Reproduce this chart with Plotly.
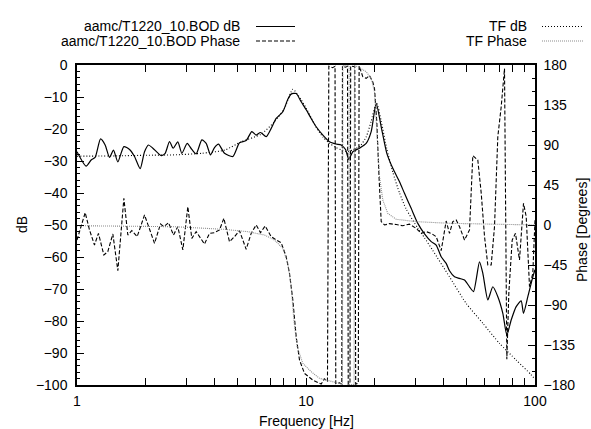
import plotly.graph_objects as go

# ---------------- data ----------------
bod_db_freq = [1.00, 1.096, 1.153, 1.200, 1.267, 1.327, 1.387, 1.443, 1.508, 1.602,
               1.696, 1.783, 1.887, 1.972, 2.052, 2.144, 2.331, 2.427, 2.535, 2.630,
               2.756, 2.870, 3.027, 3.172, 3.314, 3.509, 3.665, 3.828, 3.985, 4.149,
               4.406, 4.791, 5.124, 5.479, 5.801, 6.059, 6.328, 6.701, 7.046, 7.409,
               7.922, 8.331, 8.615, 9.060, 9.526, 10.02, 10.53, 11.08, 11.85, 12.67,
               13.54, 14.24, 14.88, 15.38, 16.01, 17.13, 18.31, 19.26, 20.25, 21.30,
               22.54, 23.94, 25.61, 26.92, 28.79, 30.78, 32.93, 35.21, 37.02, 38.93,
               40.94, 42.33, 44.51, 46.81, 49.22, 51.76, 53.88, 57.23, 59.19, 62.23,
               65.45, 68.82, 72.36, 75.34, 78.70, 82.76, 87.01, 89.08, 93.05, 97.84, 100.0]
bod_db = [-27.1, -31.6, -29.7, -28.9, -23.1, -25.0, -28.9, -26.6, -30.3, -25.5,
          -26.4, -28.6, -32.4, -27.1, -25.0, -26.0, -28.3, -27.6, -23.9, -26.0,
          -24.0, -27.6, -24.5, -26.4, -27.8, -23.4, -24.5, -28.1, -25.8, -24.7,
          -27.6, -28.6, -24.3, -23.6, -20.8, -21.9, -21.1, -22.4, -19.8, -16.7,
          -14.6, -10.7, -9.1, -8.9, -11.5, -14.0, -16.7, -19.3, -21.9, -24.0,
          -24.7, -25.0, -26.4, -29.5, -27.1, -26.0, -24.5, -20.8, -12.0, -19.3,
          -27.6, -32.3, -36.5, -40.1, -44.8, -49.5, -52.8, -55.2, -56.3, -59.9,
          -62.0, -64.3, -66.2, -66.7, -67.2, -69.3, -70.8, -61.5, -65.1, -73.4,
          -69.3, -72.4, -77.6, -84.4, -79.7, -75.5, -73.7, -77.6, -72.4, -66.2, -64.0]

bod_ph_freq = [1.000, 1.086, 1.134, 1.192, 1.241, 1.310, 1.363, 1.434, 1.508, 1.602,
               1.667, 1.735, 1.831, 1.972, 2.180, 2.315, 2.394, 2.509, 2.638, 2.756,
               2.899, 3.048, 3.172, 3.314, 3.604, 3.790, 3.985, 4.191, 4.377, 4.634,
               4.873, 5.124, 5.479, 5.762, 6.059, 6.328, 6.633, 7.046, 7.409, 7.791,
               8.192, 8.471, 8.760, 9.060, 9.367, 9.849, 10.71, 11.23, 11.65, 12.04,
               12.41, 12.58, 13.06, 13.39, 13.49, 14.01, 14.33, 14.43, 14.88, 15.18,
               15.29, 15.56, 15.67, 16.33, 16.48, 16.92, 17.06, 17.70, 18.31, 18.94,
               19.57, 19.91, 20.38, 20.79, 21.30, 22.02, 23.15, 24.77, 26.47, 28.31,
               30.28, 31.85, 33.49, 35.21, 37.02, 38.93, 40.94, 42.33, 43.76, 45.28,
               46.81, 49.22, 51.76, 53.51, 56.27, 58.24, 60.20, 62.22, 64.38, 66.55,
               68.81, 71.19, 73.59, 75.33, 76.85, 79.51, 82.19, 85.56, 89.08, 91.54,
               94.63, 97.82, 100.0]
bod_ph = [-16.9, 13.9, -5.6, -22.5, -9.4, -33.8, -30.0, -10.1, -51.4, 30.0,
          -11.3, -6.4, -13.1, 11.3, -20.6, 1.1, -1.9, 2.6, -11.3, -1.9,
          -28.1, 20.6, -15.0, -7.5, -21.4, -9.4, -8.6, -5.6, 7.5, -18.8,
          -13.1, -6.4, -27.4, -9.4, 0.0, -8.6, -1.1, -13.1, -16.9, -19.9,
          -35.6, -54.4, -84.4, -125.6, -151.9, -166.9, -174.4, -176.5, -179.0, -173.0,
          -176.0, 178.5, 177.0, 178.5, -178.5, -177.5, -179.0, 179.0, 177.5, 178.5,
          -179.0, -178.0, 179.0, 178.0, -179.0, -178.0, 179.0, 166.9, 165.0, 168.0,
          161.0, 153.8, 116.0, 60.0, 3.8, 0.0, 1.5, 0.5, -0.8, 1.0,
          -3.8, -9.4, -7.5, -9.4, -13.1, -28.9, 4.5, -9.4, 3.8, 5.6,
          -1.9, -16.9, -5.6, 78.0, 73.1, 35.6, -13.1, -45.0, -45.0, -1.9,
          99.4, 133.0, 176.0, -151.0, -76.9, -16.9, -9.4, -39.4, 24.4, 9.4,
          -69.4, -54.4, 5.6]

tf_db_freq = [1.0, 1.5, 2.0, 2.63, 3.5, 4.41, 5.21, 6.37, 7.29, 8.06,
              8.76, 9.53, 10.02, 10.53, 11.08, 11.85, 12.67, 13.54, 14.24, 14.88,
              15.38, 16.01, 17.13, 18.31, 19.26, 20.0, 20.4, 21.3, 22.5, 23.94,
              25.61, 27.38, 30.78, 32.93, 35.81, 42.33, 50.05, 59.19, 69.98, 82.76,
              96.23, 100.0]
tf_db = [-28.5, -28.4, -28.2, -28.1, -27.6, -26.6, -24.0, -21.6, -17.7, -13.5,
         -7.6, -10.9, -13.5, -16.5, -19.5, -22.5, -24.5, -25.8, -26.5, -27.0,
         -27.0, -26.5, -25.5, -22.5, -17.5, -13.0, -12.0, -17.5, -26.0, -33.5,
         -40.0, -45.0, -51.0, -54.0, -58.0, -66.2, -74.5, -80.7, -87.0, -92.2,
         -96.8, -98.2]

tf_ph_freq = [1.0, 2.66, 4.41, 5.57, 6.59, 7.29, 7.92, 8.33, 8.62, 8.85,
              9.15, 9.68, 10.53, 11.46, 13.09, 14.43, 14.49, 15.43, 15.49, 16.22,
              16.28, 17.13, 18.31, 19.26, 19.91, 20.38, 20.94, 21.65, 22.76, 24.77,
              30.28, 42.33, 97.8, 100.0]
tf_ph = [-0.8, -1.9, -4.9, -7.5, -11.3, -16.9, -26.3, -43.1, -69.4, -106.9,
         -136.9, -155.6, -165.0, -172.5, -176.3, -179.3, 179.5, 179.0, -179.5, -179.5,
         179.5, 177.0, 172.5, 165.0, 150.0, 110.6, 54.4, 28.1, 13.1, 6.4,
         3.8, 1.9, 0.0, 0.0]

x_tick_vals = [1, 10, 100]
x_tick_text = ["1", "10", "100"]

legend_names = ["aamc/T1220_10.BOD dB", "aamc/T1220_10.BOD Phase", "TF dB", "TF Phase"]

# ---------------- figure ----------------
W, H = 591, 429
L, R, T, B = 77, 56, 65, 44
PW, PH = W - L - R, H - T - B

def px(x):
    return (x - L) / PW

def py(y):
    return (H - B - y) / PH

FONT = "Liberation Sans, Arial, Helvetica, sans-serif"
GRAY = "#8c8c8c"

fig = go.Figure()
fig.add_trace(go.Scatter(x=bod_db_freq, y=bod_db, mode="lines", name=legend_names[0],
                         line=dict(color="black", width=1.2, shape="spline", smoothing=0.6)))
fig.add_trace(go.Scatter(x=bod_ph_freq, y=bod_ph, mode="lines", name=legend_names[1], yaxis="y2",
                         line=dict(color="black", width=1.1, dash="4px,2px")))
fig.add_trace(go.Scatter(x=tf_db_freq, y=tf_db, mode="lines", name=legend_names[2],
                         line=dict(color="black", width=1.1, dash="1px,2px", shape="spline", smoothing=0.6)))
fig.add_trace(go.Scatter(x=tf_ph_freq, y=tf_ph, mode="lines", name=legend_names[3], yaxis="y2",
                         line=dict(color=GRAY, width=1.1, dash="1px,1px")))

axis_common = dict(showline=True, linecolor="black", linewidth=1.5, ticks="inside",
                   tickcolor="black", tickwidth=1, showgrid=False, zeroline=False,
                   tickfont=dict(family=FONT, size=14, color="black"))

fig.update_layout(
    width=W, height=H,
    margin=dict(l=L, r=R, t=T, b=B, pad=0),
    paper_bgcolor="white", plot_bgcolor="white",
    showlegend=False,
    font=dict(family=FONT, size=14, color="black"),
    xaxis=dict(type="log", range=[0, 2], tickvals=x_tick_vals, ticktext=x_tick_text,
               ticklen=7, mirror="allticks", ticklabelstandoff=2,
               minor=dict(ticks="inside", ticklen=4, dtick="D1", tickcolor="black", showgrid=False),
               **axis_common),
    yaxis=dict(range=[-100, 0], dtick=10, ticklen=7, ticklabelstandoff=5,
               minor=dict(ticks="inside", ticklen=3, dtick=2, tickcolor="black", showgrid=False),
               **axis_common),
    yaxis2=dict(range=[-180, 180], dtick=45, ticklen=7, overlaying="y", side="right",
                ticklabelstandoff=4,
                minor=dict(ticks="inside", ticklen=3, dtick=15, tickcolor="black", showgrid=False),
                **axis_common),
)

ann = []
shapes = []
# legend (gnuplot-style key)
rows = [(26.5, 242, 256, 295, legend_names[0], dict(color="black", width=1.2)),
        (41.0, 242, 256, 295, legend_names[1], dict(color="black", width=1.1, dash="4px,2px")),
        (26.5, 529, 542, 583, legend_names[2], dict(color="black", width=1.1, dash="1px,2px")),
        (41.0, 529, 542, 583, legend_names[3], dict(color=GRAY, width=1.1, dash="1px,1px"))]
for yy, xt, x0, x1, name, ln in rows:
    ann.append(dict(x=px(xt), y=py(yy), xref="paper", yref="paper", text=name, showarrow=False,
                    xanchor="right", yanchor="middle", font=dict(family=FONT, size=14, color="black")))
    shapes.append(dict(type="line", xref="paper", yref="paper", x0=px(x0), x1=px(x1),
                       y0=py(yy), y1=py(yy), line=ln))

# axis titles
ann.append(dict(x=px(22), y=py(225), xref="paper", yref="paper", text="dB", textangle=-90,
                showarrow=False, xanchor="center", yanchor="middle", font=dict(family=FONT, size=14)))
ann.append(dict(x=px(306), y=py(421), xref="paper", yref="paper", text="Frequency [Hz]",
                showarrow=False, xanchor="center", yanchor="middle", font=dict(family=FONT, size=14)))
ann.append(dict(x=px(582), y=py(230), xref="paper", yref="paper", text="Phase [Degrees]", textangle=-90,
                showarrow=False, xanchor="center", yanchor="middle", font=dict(family=FONT, size=14)))

fig.update_layout(annotations=ann, shapes=shapes)
fig.write_html("out.html")
